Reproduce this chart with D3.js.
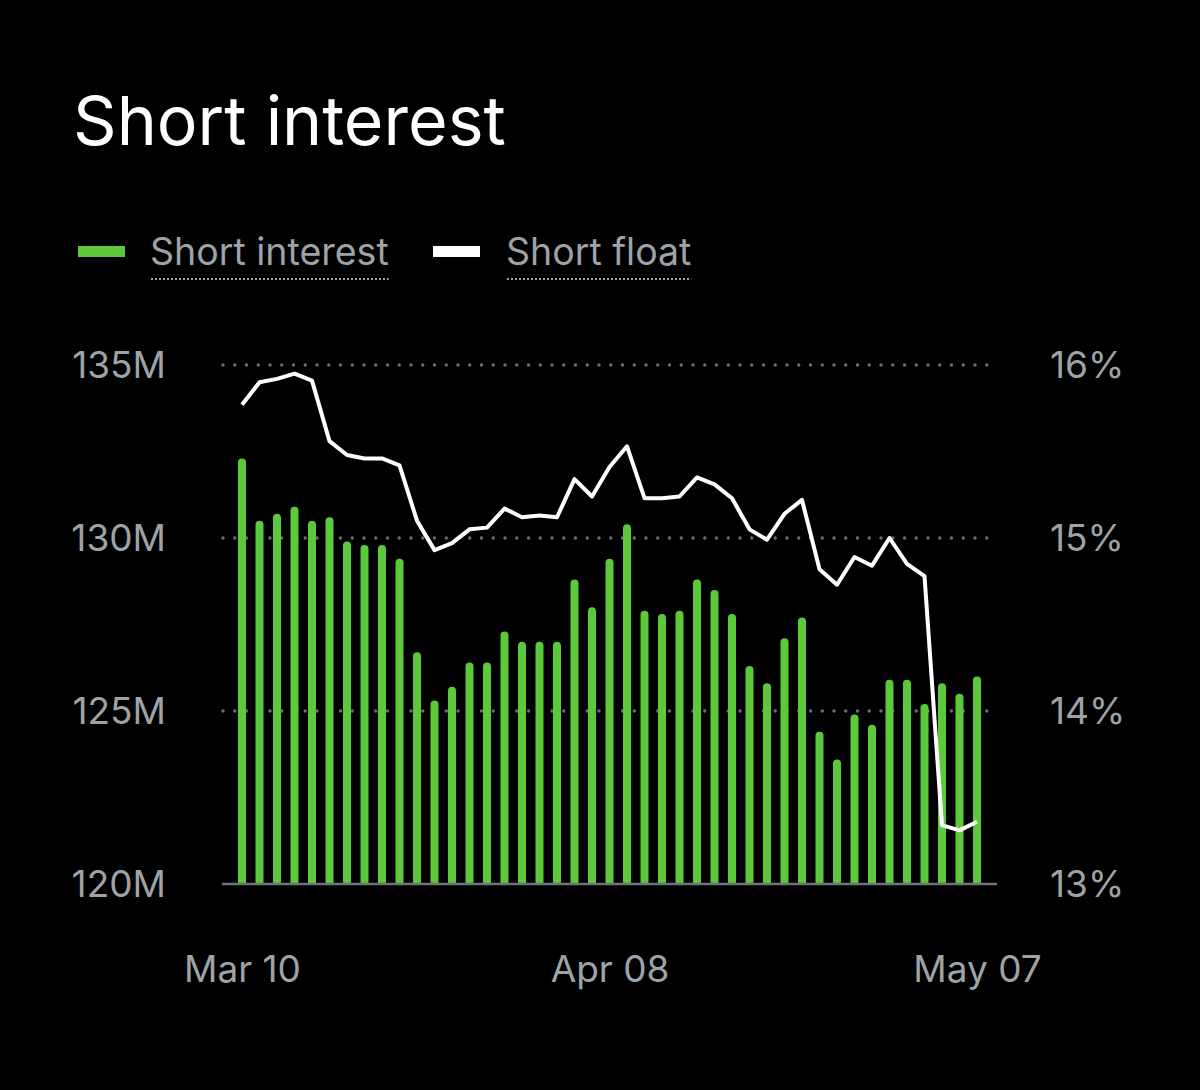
<!DOCTYPE html>
<html><head><meta charset="utf-8">
<script src="https://cdn.jsdelivr.net/npm/d3@7"></script>
<style>
html,body{margin:0;padding:0;background:#000;}
svg{display:block;}
text{font-family:Inter,"Noto Sans",sans-serif;}
</style></head>
<body>
<svg id="chart" width="1200" height="1090"></svg>
<script>
const dates = ["2021-03-10","2021-03-11","2021-03-12","2021-03-15","2021-03-16","2021-03-17","2021-03-18","2021-03-19",
"2021-03-22","2021-03-23","2021-03-24","2021-03-25","2021-03-26","2021-03-29","2021-03-30","2021-03-31",
"2021-04-01","2021-04-02","2021-04-05","2021-04-06","2021-04-07","2021-04-08","2021-04-09",
"2021-04-12","2021-04-13","2021-04-14","2021-04-15","2021-04-16","2021-04-19","2021-04-20","2021-04-21","2021-04-22","2021-04-23",
"2021-04-26","2021-04-27","2021-04-28","2021-04-29","2021-04-30","2021-05-03","2021-05-04","2021-05-05","2021-05-06","2021-05-07"];
// Short interest, millions of shares
const shortInterest = [132.3,130.5,130.7,130.9,130.5,130.6,129.9,129.8,129.8,129.4,
126.7,125.3,125.7,126.4,126.4,127.3,127.0,127.0,127.0,128.8,128.0,129.4,130.4,
127.9,127.8,127.9,128.8,128.5,127.8,126.3,125.8,127.1,127.7,124.4,123.6,124.9,124.6,
125.9,125.9,125.2,125.8,125.5,126.0];
// Short float, percent
const shortFloat = [15.77,15.90,15.92,15.95,15.91,15.56,15.48,15.46,15.46,15.42,
15.10,14.93,14.97,15.05,15.06,15.17,15.12,15.13,15.12,15.34,15.24,15.41,15.53,
15.23,15.23,15.24,15.35,15.31,15.23,15.05,14.99,15.14,15.22,14.82,14.73,14.89,14.84,
15.00,14.85,14.78,13.34,13.31,13.36];
const leftTicks = [120,125,130,135];
const leftTickLabels = ["120M","125M","130M","135M"];
const rightTicks = [13,14,15,16];
const rightTickLabels = ["13%","14%","15%","16%"];
const xTickDates = ["2021-03-10","2021-04-08","2021-05-07"];
const xTickLabels = ["Mar 10","Apr 08","May 07"];
const legendLabels = ["Short interest","Short float"];

const GREEN = "#5cc93b", GRAY = "#9ea3a8";
const svg = d3.select("#chart");
const plotTop = 365, plotBottom = 884;
const x = d3.scalePoint().domain(dates).range([242, 977]);
const yL = d3.scaleLinear().domain([120,135]).range([plotBottom, plotTop]);
const yR = d3.scaleLinear().domain([13,16]).range([plotBottom, plotTop]);

// Title
svg.append("text").attr("x", 73).attr("y", 145).attr("fill", "#fff")
  .attr("font-size", 68).attr("font-weight", 400).text("Short interest");

// Legend
const legend = [{label: legendLabels[0], color: GREEN, x: 78, tx: 150},
                {label: legendLabels[1], color: "#fff", x: 433, tx: 506}];
legend.forEach(l => {
  svg.append("rect").attr("x", l.x).attr("y", 246).attr("width", 47).attr("height", 11).attr("fill", l.color);
  const t = svg.append("text").attr("x", l.tx).attr("y", 265).attr("fill", GRAY)
    .attr("font-size", 37.5).text(l.label);
  const w = t.node().getComputedTextLength();
  svg.append("line").attr("x1", l.tx+1).attr("x2", l.tx + w).attr("y1", 279).attr("y2", 279)
    .attr("stroke", GRAY).attr("stroke-width", 2).attr("stroke-dasharray", "2 2");
});

// Gridlines (dotted)
const grid = svg.append("g");
leftTicks.filter(v => v > 120).forEach(v => {
  grid.append("line").attr("x1", 223).attr("x2", 990).attr("y1", yL(v)).attr("y2", yL(v))
    .attr("stroke", "#6b6e72").attr("stroke-width", 3.4).attr("stroke-linecap", "round")
    .attr("stroke-dasharray", "0 11.75");
});

// Bars
const defs = svg.append("defs");
defs.append("clipPath").attr("id", "plotclip").append("rect")
  .attr("x", 0).attr("y", 0).attr("width", 1200).attr("height", plotBottom);
const bw = 8;
svg.append("g").attr("clip-path", "url(#plotclip)").selectAll("rect")
  .data(dates).join("rect")
  .attr("x", d => x(d) - bw/2).attr("width", bw)
  .attr("y", (d,i) => yL(shortInterest[i]))
  .attr("height", (d,i) => plotBottom - yL(shortInterest[i]) + 10)
  .attr("rx", bw/2).attr("fill", GREEN);

// Baseline
svg.append("line").attr("x1", 222).attr("x2", 997).attr("y1", plotBottom).attr("y2", plotBottom)
  .attr("stroke", "#707377").attr("stroke-width", 2.5);

// Line
const line = d3.line().x((d,i) => x(dates[i])).y(d => yR(d)).curve(d3.curveLinear);
svg.append("path").datum(shortFloat).attr("d", line).attr("fill", "none")
  .attr("stroke", "#fff").attr("stroke-width", 4).attr("stroke-linejoin", "round");

// Left axis
const axL = d3.axisLeft(yL).tickValues(leftTicks).tickFormat((d,i) => leftTickLabels[i]).tickSize(0);
const gL = svg.append("g").attr("transform", "translate(166,0)").call(axL);
gL.select(".domain").remove();
gL.selectAll("text").attr("fill", GRAY).attr("font-size", 37).attr("x", 0).attr("dy", "0.35em")
  .attr("font-family", "Inter,'Noto Sans',sans-serif");

// Right axis
const axR = d3.axisRight(yR).tickValues(rightTicks).tickFormat((d,i) => rightTickLabels[i]).tickSize(0);
const gR = svg.append("g").attr("transform", "translate(1050,0)").call(axR);
gR.select(".domain").remove();
gR.selectAll("text").attr("fill", GRAY).attr("font-size", 37).attr("x", 0).attr("dy", "0.35em")
  .attr("font-family", "Inter,'Noto Sans',sans-serif");

// X axis
const axX = d3.axisBottom(x).tickValues(xTickDates).tickFormat((d,i) => xTickLabels[i]).tickSize(0);
const gX = svg.append("g").attr("transform", "translate(0,969)").call(axX);
gX.select(".domain").remove();
gX.selectAll("text").attr("fill", GRAY).attr("font-size", 37).attr("y", 0).attr("dy", "0.35em")
  .attr("font-family", "Inter,'Noto Sans',sans-serif");
</script>
</body></html>
